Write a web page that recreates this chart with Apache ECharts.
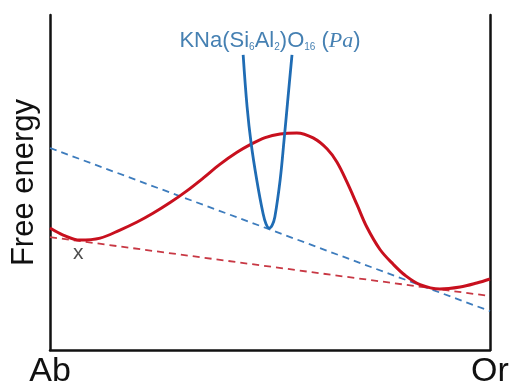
<!DOCTYPE html>
<html>
<head>
<meta charset="utf-8">
<script src="https://cdn.jsdelivr.net/npm/echarts@6/dist/echarts.min.js"></script>
<style>
  html, body { margin: 0; padding: 0; background: #fff; }
  #chart { width: 511px; height: 383px; }
</style>
</head>
<body>
<div id="chart"></div>
<script>
// composition axis: 0 = Ab, 1 = Or ; free energy in arbitrary units (0..100)
const xTickLabels = ['Ab', 'Or']

// red free-energy curve of the feldspar solid solution
const solidX = [0, 0.03, 0.068, 0.114, 0.159, 0.198, 0.234, 0.273, 0.311, 0.348, 0.386, 0.425, 0.455,
  0.489, 0.523, 0.561, 0.598, 0.63, 0.652, 0.675, 0.698, 0.72, 0.75, 0.78, 0.807, 0.841, 0.886,
  0.932, 0.97, 1]
const solidG = [36.4, 34.3, 32.8, 33.4, 35.8, 38.2, 40.8, 44.0, 47.5, 51.3, 55.4, 59.0, 61.3,
  63.4, 64.5, 64.8, 63.3, 60.0, 56.1, 50.1, 43.3, 36.7, 30.0, 25.6, 22.3, 19.5, 18.2,
  18.8, 20.0, 21.2]

// blue curve of the ordered phase Pa
const paX = [0.439, 0.448, 0.457, 0.47, 0.484, 0.491, 0.498, 0.505, 0.511, 0.523, 0.532, 0.541, 0.55]
const paG = [88.1, 72.5, 61.8, 50.7, 40.9, 37.6, 36.4, 37.3, 39.7, 50.7, 62.7, 75.5, 88.1]

// common tangents
const tangentBlueX = [0, 1]
const tangentBlueG = [60.3, 11.6]
const tangentRedX = [0, 1]
const tangentRedG = [33.7, 16.1]

// annotations
const paLabelPos = [0.5, 92.3]
const xMarkPos = [0.064, 28.8]

const zip = (xs, ys) => xs.map((x, i) => [x, ys[i]])

const chart = echarts.init(document.getElementById('chart'))

const axisLine = { show: true, lineStyle: { color: '#111', width: 2.5 } }

chart.setOption({
  animation: false,
  grid: { left: 50, right: 21, top: 15, bottom: 33, containLabel: false, outerBoundsMode: 'none' },
  xAxis: {
    type: 'value',
    min: 0,
    max: 1,
    interval: 1,
    axisLine: axisLine,
    axisTick: { show: false },
    splitLine: { show: false },
    axisLabel: {
      margin: 5,
      fontFamily: 'Liberation Sans',
      fontSize: 34,
      color: '#111',
      formatter: v => xTickLabels[v]
    }
  },
  yAxis: [
    {
      type: 'value',
      min: 0,
      max: 100,
      name: 'Free energy',
      nameLocation: 'middle',
      nameRotate: 90,
      nameGap: 10,
      nameTextStyle: { fontFamily: 'Liberation Sans', fontSize: 31, color: '#111' },
      axisLine: axisLine,
      axisTick: { show: false },
      axisLabel: { show: false },
      splitLine: { show: false }
    },
    {
      type: 'value',
      position: 'right',
      min: 0,
      max: 100,
      axisLine: axisLine,
      axisTick: { show: false },
      axisLabel: { show: false },
      splitLine: { show: false }
    }
  ],
  series: [
    {
      type: 'line',
      data: zip(tangentBlueX, tangentBlueG),
      symbol: 'none',
      lineStyle: { color: '#3d7cbd', width: 1.8, type: [7, 5] }
    },
    {
      type: 'line',
      data: zip(tangentRedX, tangentRedG),
      symbol: 'none',
      lineStyle: { color: '#c83844', width: 1.8, type: [7, 5] }
    },
    {
      type: 'line',
      data: zip(solidX, solidG),
      smooth: 0.35,
      symbol: 'none',
      lineStyle: { color: '#c8101e', width: 3 }
    },
    {
      type: 'line',
      data: zip(paX, paG),
      smooth: 0.4,
      symbol: 'none',
      lineStyle: { color: '#1f6cb4', width: 2.8 }
    },
    {
      type: 'scatter',
      symbolSize: 0,
      silent: true,
      data: [
        {
          value: paLabelPos,
          label: {
            show: true,
            position: 'inside',
            formatter: 'KNa(Si{s|6}Al{s|2})O{s|16} ({i|Pa})',
            fontFamily: 'Liberation Sans',
            fontSize: 22,
            color: '#17609f',
            rich: {
              s: { fontFamily: 'Liberation Sans', fontSize: 10, color: '#17609f', verticalAlign: 'bottom', lineHeight: 21 },
              i: { fontFamily: 'Liberation Serif', fontStyle: 'italic', fontSize: 22, color: '#17609f' }
            }
          }
        },
        {
          value: xMarkPos,
          label: {
            show: true,
            position: 'inside',
            formatter: 'x',
            fontFamily: 'Liberation Sans',
            fontSize: 21,
            color: '#222'
          }
        }
      ]
    }
  ]
})
</script>
</body>
</html>
